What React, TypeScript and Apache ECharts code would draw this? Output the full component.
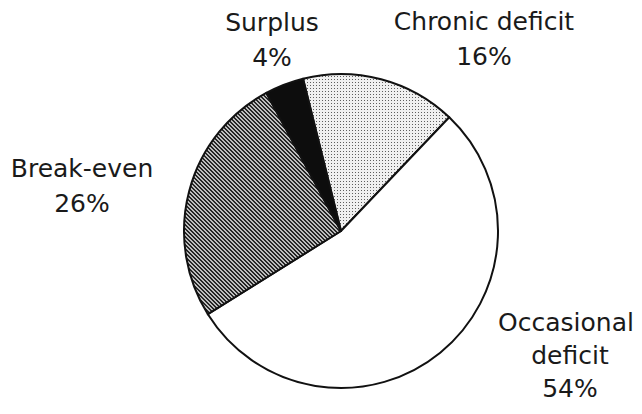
import React, { useEffect, useRef } from "react";
import * as echarts from "echarts";

// Share of cases by budget outcome (percent)
const categories = ["Chronic deficit", "Occasional deficit", "Break-even", "Surplus"];
const shares = [16, 54, 26, 4];

// Where each label block is centred (px inside the chart)
const labelAnchors: [number, number][] = [
  [484, 39],
  [570, 355],
  [82, 186],
  [272, 40],
];

function makeDots(): HTMLCanvasElement {
  const c = document.createElement("canvas");
  c.width = 3;
  c.height = 3;
  const g = c.getContext("2d")!;
  g.fillStyle = "#f0f0f0";
  g.fillRect(0, 0, 3, 3);
  g.fillStyle = "#5e5e5e";
  g.fillRect(1, 1, 1, 1);
  return c;
}

function makeHatch(): HTMLCanvasElement {
  const n = 4;
  const c = document.createElement("canvas");
  c.width = n;
  c.height = n;
  const g = c.getContext("2d")!;
  g.fillStyle = "#bdbdbd";
  g.fillRect(0, 0, n, n);
  g.fillStyle = "#262626";
  for (let i = 0; i < n; i++) {
    g.fillRect(i, i, 1, 1);
    g.fillRect((i + 1) % n, i, 1, 1);
  }
  return c;
}

export default function App() {
  const ref = useRef<HTMLDivElement>(null);

  useEffect(() => {
    if (!ref.current) return;
    const chart = echarts.init(ref.current, undefined, { renderer: "svg" });
    const dots = makeDots();
    const hatch = makeHatch();
    const fills: any[] = [
      { image: dots, repeat: "repeat", imageWidth: 3, imageHeight: 3 },
      "#ffffff",
      { image: hatch, repeat: "repeat", imageWidth: 4, imageHeight: 4 },
      "#0d0d0d",
    ];

    chart.setOption({
      animation: false,
      backgroundColor: "#ffffff",
      series: [
        {
          type: "pie",
          center: [341, 231],
          radius: 157,
          startAngle: 104,
          clockwise: true,
          avoidLabelOverlap: false,
          label: {
            show: true,
            formatter: (p: any) => `${p.name}\n${p.value}%`,
            fontFamily: "DejaVu Sans",
            fontSize: 25,
            lineHeight: 35,
            color: "#1a1a1a",
            align: "center",
          },
          labelLine: { show: false },
          labelLayout: (params: any) => {
            const [x, y] = labelAnchors[params.dataIndex];
            return { x, y, align: "center", verticalAlign: "middle" };
          },
          itemStyle: { borderColor: "#111111", borderWidth: 2 },
          emphasis: { disabled: true },
          data: categories.map((name, i) => ({
            name,
            value: shares[i],
            itemStyle: { color: fills[i] },
            label:
              i === 1
                ? { width: 150, overflow: "break", lineHeight: 33 }
                : undefined,
          })),
        },
      ],
    });

    return () => chart.dispose();
  }, []);

  return (
    <div
      ref={ref}
      style={{ position: "fixed", left: 0, top: 0, width: 642, height: 414 }}
    />
  );
}
